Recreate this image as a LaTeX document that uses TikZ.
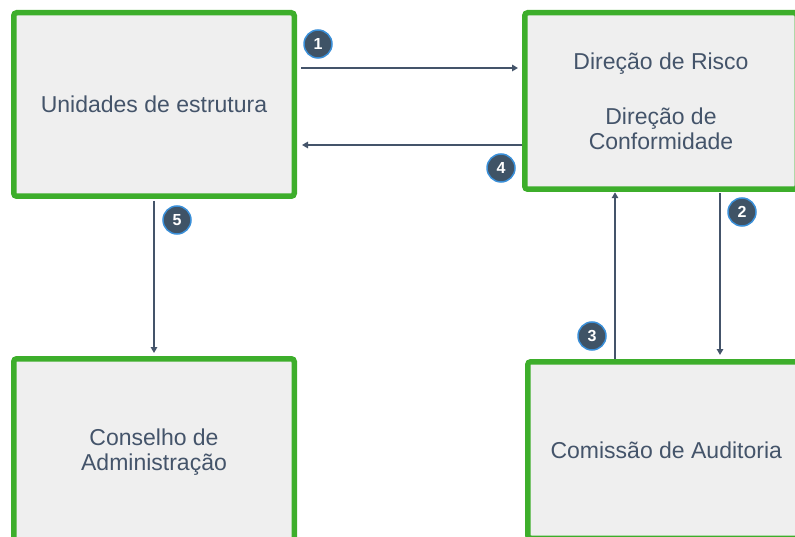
\documentclass[tikz,border=0pt]{standalone}
\usepackage{fontspec}
\setmainfont{Liberation Sans}
\usetikzlibrary{arrows.meta}
\definecolor{boxgreen}{HTML}{3DAE2B}
\definecolor{boxfill}{HTML}{EFEFEF}
\definecolor{ink}{HTML}{44546A}
\definecolor{badgefill}{HTML}{3F5366}
\definecolor{badgeline}{HTML}{3A8FD8}
\begin{document}
\begin{tikzpicture}[x=1pt,y=-1pt,
  panel/.style={draw=boxgreen, line width=5.5pt, fill=boxfill, rounded corners=3pt,
    inner sep=0pt, outer sep=0pt, text=ink, align=center,
    font=\fontsize{23}{25}\selectfont},
  link/.style={draw=ink, line width=2pt, -{Triangle[length=6pt,width=6.5pt]}},
  badge/.style={circle, fill=badgefill, draw=badgeline, line width=1.5pt,
    minimum size=28pt, inner sep=0pt, text=white,
    font=\fontsize{16}{16}\selectfont\bfseries}]
\useasboundingbox (0,0) rectangle (795,537);
\clip (0,0) rectangle (795,537);
% boxes
\node[panel, minimum width=280.5pt, minimum height=183.5pt] (A) at (154,104.5)
  {Unidades de estrutura};
\node[panel, minimum width=272.5pt, minimum height=176.5pt] (B) at (661,101)
  {Direção de Risco\\[30pt]Direção de\\Conformidade};
\node[panel, minimum width=280.5pt, minimum height=186.5pt] (C) at (154,452)
  {Conselho de\\Administração};
\node[panel, minimum width=277pt, minimum height=176.5pt] (D) at (666.25,450)
  {Comissão de Auditoria};
% helper coordinates for connector heights / columns
\coordinate (h1) at (0,68);
\coordinate (h4) at (0,145);
\coordinate (v3) at (615,0);
\coordinate (v2) at (720,0);
% connectors
\draw[link, shorten <=6.75pt, shorten >=6.75pt] (A.east |- h1) -- (B.west |- h1);
\draw[link, shorten <=2.75pt, shorten >=7.75pt] (B.west |- h4) -- (A.east |- h4);
\draw[link, shorten <=2.75pt, shorten >=3pt] (D.north -| v3) -- (B.south -| v3);
\draw[link, shorten <=4pt, shorten >=6.75pt] (B.south -| v2) -- (D.north -| v2);
\draw[link, shorten <=4.75pt, shorten >=5.75pt] (A.south) -- (C.north);
% badges
\node[badge] (b1) at (318,44) {1};
\node[badge] (b2) at (742,212) {2};
\node[badge] (b3) at (592,336) {3};
\node[badge] (b4) at (501,168) {4};
\node[badge] (b5) at (177,220) {5};
\end{tikzpicture}
\end{document}
